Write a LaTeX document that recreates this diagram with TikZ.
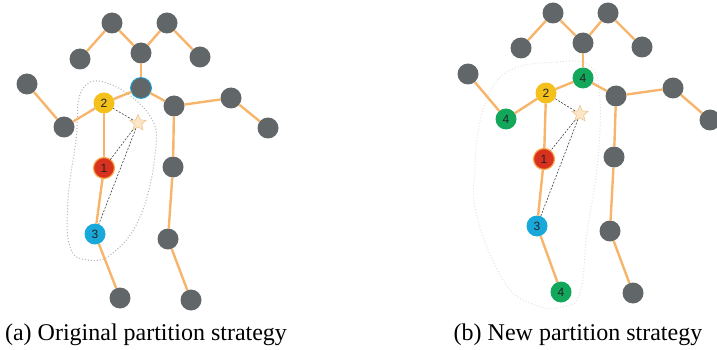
\documentclass[tikz,border=0pt]{standalone}
\usepackage{fontspec}
\setmainfont{Liberation Serif}
\setsansfont{Liberation Sans}
\usetikzlibrary{shapes.geometric,positioning}
\definecolor{bonecol}{HTML}{F6B56A}
\definecolor{jointgray}{HTML}{616668}
\definecolor{jyellow}{HTML}{F3C01C}
\definecolor{jred}{HTML}{D8321F}
\definecolor{jring}{HTML}{F7A64A}
\definecolor{jblue}{HTML}{19A8DA}
\definecolor{jgreen}{HTML}{12A75A}
\definecolor{starfill}{HTML}{FCE6C6}
\definecolor{stardraw}{HTML}{EBC594}
\definecolor{numcol}{HTML}{222222}

\begin{document}
\begin{tikzpicture}[x=1pt,y=-1pt]
\tikzstyle{joint}=[circle,inner sep=0pt,outer sep=0pt,
minimum size=21pt,fill=jointgray,font=\sffamily\fontsize{12}{12}\selectfont,text=numcol]
\tikzstyle{bone}=[draw=bonecol,line width=2.4pt]
\tikzstyle{refline}=[draw=black!75,dashed,dash pattern=on 2pt off 1.5pt,line width=0.6pt]
\tikzstyle{center}=[star,star points=5,star point ratio=2.2,minimum size=17pt,
inner sep=0pt,fill=starfill,draw=stardraw,line width=0.6pt]
\tikzstyle{caption}=[anchor=base,font=\fontsize{24}{24}\selectfont]
\useasboundingbox (0,0) rectangle (717,350);

% partition outlines
\draw[gray!60,dotted,line width=1pt] plot[smooth cycle,tension=0.7] coordinates
{(82,90) (110,84) (150,116) (155,155) (140,217) (113,253) (88,260) (70,247) (68,200) (76,140)};
\draw[gray!22,dotted,line width=1pt] plot[smooth cycle,tension=0.7] coordinates
{(507,72) (557,62) (590,66) (600,100) (597,167) (587,233) (580,293) (562,307) (535,305) (505,283) (477,217) (475,167) (483,110)};

% (a) original partition
\node[joint] at (112,23) (ha) {};
\node[joint] at (167,23) (hb) {};
\node[joint] at (80,59) (hc) {};
\node[joint] at (141,53) (hd) {};
\node[joint] at (200,57) (he) {};
\node[joint,draw=jblue,line width=0.8pt] at (141,88) (neck) {};
\node[joint,fill=jyellow] at (104,103) (j2) {2};
\node[joint] at (27,84) (lhand) {};
\node[joint] at (64,127) (lelbow) {};
\node[joint,fill=jred,draw=jring,line width=1.2pt] at (104,168) (j1) {1};
\node[joint,fill=jblue] at (95,234) (j3) {3};
\node[joint] at (120,298) (lfoot) {};
\node[joint] at (174,106) (rsh) {};
\node[joint] at (231,98) (relbow) {};
\node[joint] at (268,128) (rhand) {};
\node[joint] at (173,167) (rhip) {};
\node[joint] at (168,239) (rknee) {};
\node[joint] at (191,300) (rfoot) {};
\node[center] at (138,123) (cg) {};

\path[bone] (hc) edge (ha) ;
\path[bone] (ha) edge (hd) ;
\path[bone] (hd) edge (hb) ;
\path[bone] (hb) edge (he) ;
\path[bone] (hd) edge (neck) ;
\path[bone] (neck) edge (j2) ;
\path[bone] (j2) edge (lelbow) ;
\path[bone] (lelbow) edge (lhand) ;
\path[bone] (neck) edge (rsh) ;
\path[bone] (rsh) edge (relbow) ;
\path[bone] (relbow) edge (rhand) ;
\path[bone] (j2) edge (j1) ;
\path[bone] (j1) edge (j3) ;
\path[bone] (j3) edge (lfoot) ;
\path[bone] (rsh) edge (rhip) ;
\path[bone] (rhip) edge (rknee) ;
\path[bone] (rknee) edge (rfoot) ;
\path[refline] (cg) edge (j2) ;
\path[refline] (cg) edge (j1) ;
\path[refline] (cg) edge (j3) ;

% (b) new partition
\node[joint] at (553,13) (nha) {};
\node[joint] at (608,13) (nhb) {};
\node[joint] at (521,48) (nhc) {};
\node[joint] at (583,43) (nhd) {};
\node[joint] at (642,47) (nhe) {};
\node[joint,fill=jgreen] at (583,78) (nneck) {4};
\node[joint,fill=jyellow] at (546,93) (n2) {2};
\node[joint] at (468,74) (nlhand) {};
\node[joint,fill=jgreen] at (506,119) (nlelbow) {4};
\node[joint,fill=jred,draw=jring,line width=1.2pt] at (544,159) (n1) {1};
\node[joint,fill=jblue] at (537,226) (n3) {3};
\node[joint,fill=jgreen] at (561,292) (nlfoot) {4};
\node[joint] at (616,96) (nrsh) {};
\node[joint] at (673,88) (nrelbow) {};
\node[joint] at (710,120) (nrhand) {};
\node[joint] at (614,157) (nrhip) {};
\node[joint] at (610,231) (nrknee) {};
\node[joint] at (633,293) (nrfoot) {};
\node[center] at (580,114) (ncg) {};

\path[bone] (nhc) edge (nha) ;
\path[bone] (nha) edge (nhd) ;
\path[bone] (nhd) edge (nhb) ;
\path[bone] (nhb) edge (nhe) ;
\path[bone] (nhd) edge (nneck) ;
\path[bone] (nneck) edge (n2) ;
\path[bone] (n2) edge (nlelbow) ;
\path[bone] (nlelbow) edge (nlhand) ;
\path[bone] (nneck) edge (nrsh) ;
\path[bone] (nrsh) edge (nrelbow) ;
\path[bone] (nrelbow) edge (nrhand) ;
\path[bone] (n2) edge (n1) ;
\path[bone] (n1) edge (n3) ;
\path[bone] (n3) edge (nlfoot) ;
\path[bone] (nrsh) edge (nrhip) ;
\path[bone] (nrhip) edge (nrknee) ;
\path[bone] (nrknee) edge (nrfoot) ;
\path[refline] (ncg) edge (n2) ;
\path[refline] (ncg) edge (n1) ;
\path[refline] (ncg) edge (n3) ;

% captions
\node[caption] at (146,340) (capa) {(a) Original partition strategy};
\node[caption] at (578,340) (capb) {(b) New partition strategy};
\end{tikzpicture}
\end{document}
